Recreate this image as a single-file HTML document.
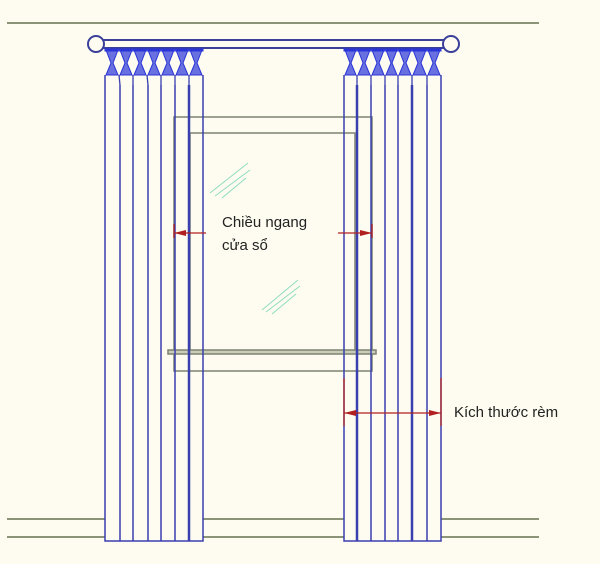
<!DOCTYPE html>
<html><head><meta charset="utf-8"><style>
html,body{margin:0;padding:0;background:#fefcf0;}
svg{display:block}
text{font-family:"Liberation Sans","DejaVu Sans",sans-serif;fill:#222;font-size:15px}
</style></head><body>
<svg width="600" height="564" viewBox="0 0 600 564" xmlns="http://www.w3.org/2000/svg">
<rect width="600" height="564" fill="#fefcf0"/>
<g stroke="#8c9478" stroke-width="2" fill="none">
<line x1="7" y1="23" x2="539" y2="23"/>
<path d="M7,519 H105 M203,519 H344 M441,519 H539"/>
<path d="M7,537 H105 M203,537 H344 M441,537 H539"/>
</g>
<!-- window -->
<g stroke="#7d8470" stroke-width="1.5" fill="none">
<rect x="174" y="117" width="198" height="254"/>
<polyline points="190,351 190,133 355,133 355,351"/>
<rect x="168" y="350" width="208" height="4" fill="#c8ccb8"/>
</g>
<g stroke="#8fdcc0" stroke-width="1">
<line x1="210" y1="193" x2="248" y2="163"/><line x1="215" y1="196" x2="250" y2="170"/><line x1="222" y1="198" x2="246" y2="178"/>
<line x1="262" y1="310" x2="298" y2="280"/><line x1="266" y1="312" x2="300" y2="286"/><line x1="272" y1="314" x2="296" y2="294"/>
</g>
<!-- rod -->
<g stroke="#3a3f9a" stroke-width="2" fill="#fefcf0">
<rect x="103" y="40" width="342" height="8"/>
<circle cx="96" cy="44" r="8"/>
<circle cx="451" cy="44" r="8"/>
</g>
<!-- curtains -->
<g stroke="#3a3fb0" stroke-width="1.5" fill="none">
<polyline points="105,75 105,541 203,541 203,75"/>
<line x1="120" y1="85" x2="120" y2="541"/><line x1="133" y1="85" x2="133" y2="541"/>
<line x1="148" y1="85" x2="148" y2="541"/><line x1="161" y1="85" x2="161" y2="541"/>
<line x1="175" y1="85" x2="175" y2="541"/><line x1="189" y1="85" x2="189" y2="541" stroke-width="2.5"/>
<polyline points="344,75 344,541 441,541 441,75"/>
<line x1="357" y1="85" x2="357" y2="541" stroke-width="2.5"/><line x1="371" y1="85" x2="371" y2="541"/>
<line x1="385" y1="85" x2="385" y2="541"/><line x1="398" y1="85" x2="398" y2="541"/>
<line x1="412" y1="85" x2="412" y2="541" stroke-width="2.5"/><line x1="427" y1="85" x2="427" y2="541"/>
</g>
<!-- pleat heads: hourglasses -->
<g fill="#2a35d8" fill-opacity="0.7" stroke="#2a35d8" stroke-width="1">
<path d="M105,49 L203,49 L203,51 L105,51 Z"/>
<path d="M344,49 L441,49 L441,51 L344,51 Z"/>
<path d="M106,50 L118,50 L113,63 L118,75 L106,75 L111,63Z M120,50 L132,50 L127,63 L132,75 L120,75 L125,63Z M134,50 L146,50 L141,63 L146,75 L134,75 L139,63Z M148,50 L160,50 L155,63 L160,75 L148,75 L153,63Z M162,50 L174,50 L169,63 L174,75 L162,75 L167,63Z M176,50 L188,50 L183,63 L188,75 L176,75 L181,63Z M190,50 L202,50 L197,63 L202,75 L190,75 L195,63Z"/>
<path d="M345,50 L356,50 L351,63 L356,75 L345,75 L350,63Z M358,50 L370,50 L365,63 L370,75 L358,75 L363,63Z M372,50 L384,50 L379,63 L384,75 L372,75 L377,63Z M386,50 L397,50 L392,63 L397,75 L386,75 L391,63Z M399,50 L411,50 L406,63 L411,75 L399,75 L404,63Z M413,50 L426,50 L421,63 L426,75 L413,75 L418,63Z M428,50 L440,50 L435,63 L440,75 L428,75 L433,63Z"/>
</g>
<g stroke="#3a3fb0" stroke-width="1.3" fill="none">
<path d="M119,75 L120,85 M133,75 L133,85 M147,75 L148,85 M161,75 L161,85 M175,75 L175,85 M189,75 L189,85"/>
<path d="M357,75 L357,85 M371,75 L371,85 M385,75 L385,85 M398,75 L398,85 M412,75 L412,85 M427,75 L427,85"/>
</g>
<!-- dimensions -->
<g stroke="#b02020" stroke-width="1.3" fill="#b02020">
<line x1="174" y1="233" x2="206" y2="233"/><line x1="174" y1="224" x2="174" y2="238"/>
<polygon points="174,233 186,230 186,236" stroke="none"/>
<line x1="338" y1="233" x2="372" y2="233"/><line x1="372" y1="224" x2="372" y2="238"/>
<polygon points="372,233 360,230 360,236" stroke="none"/>
<line x1="344" y1="413" x2="441" y2="413"/>
<line x1="344" y1="378" x2="344" y2="426"/><line x1="441" y1="378" x2="441" y2="426"/>
<polygon points="344,413 356,410 356,416" stroke="none"/>
<polygon points="441,413 429,410 429,416" stroke="none"/>
</g>
<text x="222" y="227">Chiều ngang</text>
<text x="222" y="250">cửa sổ</text>
<text x="454" y="417">Kích thước rèm</text>
</svg>
</body></html>
